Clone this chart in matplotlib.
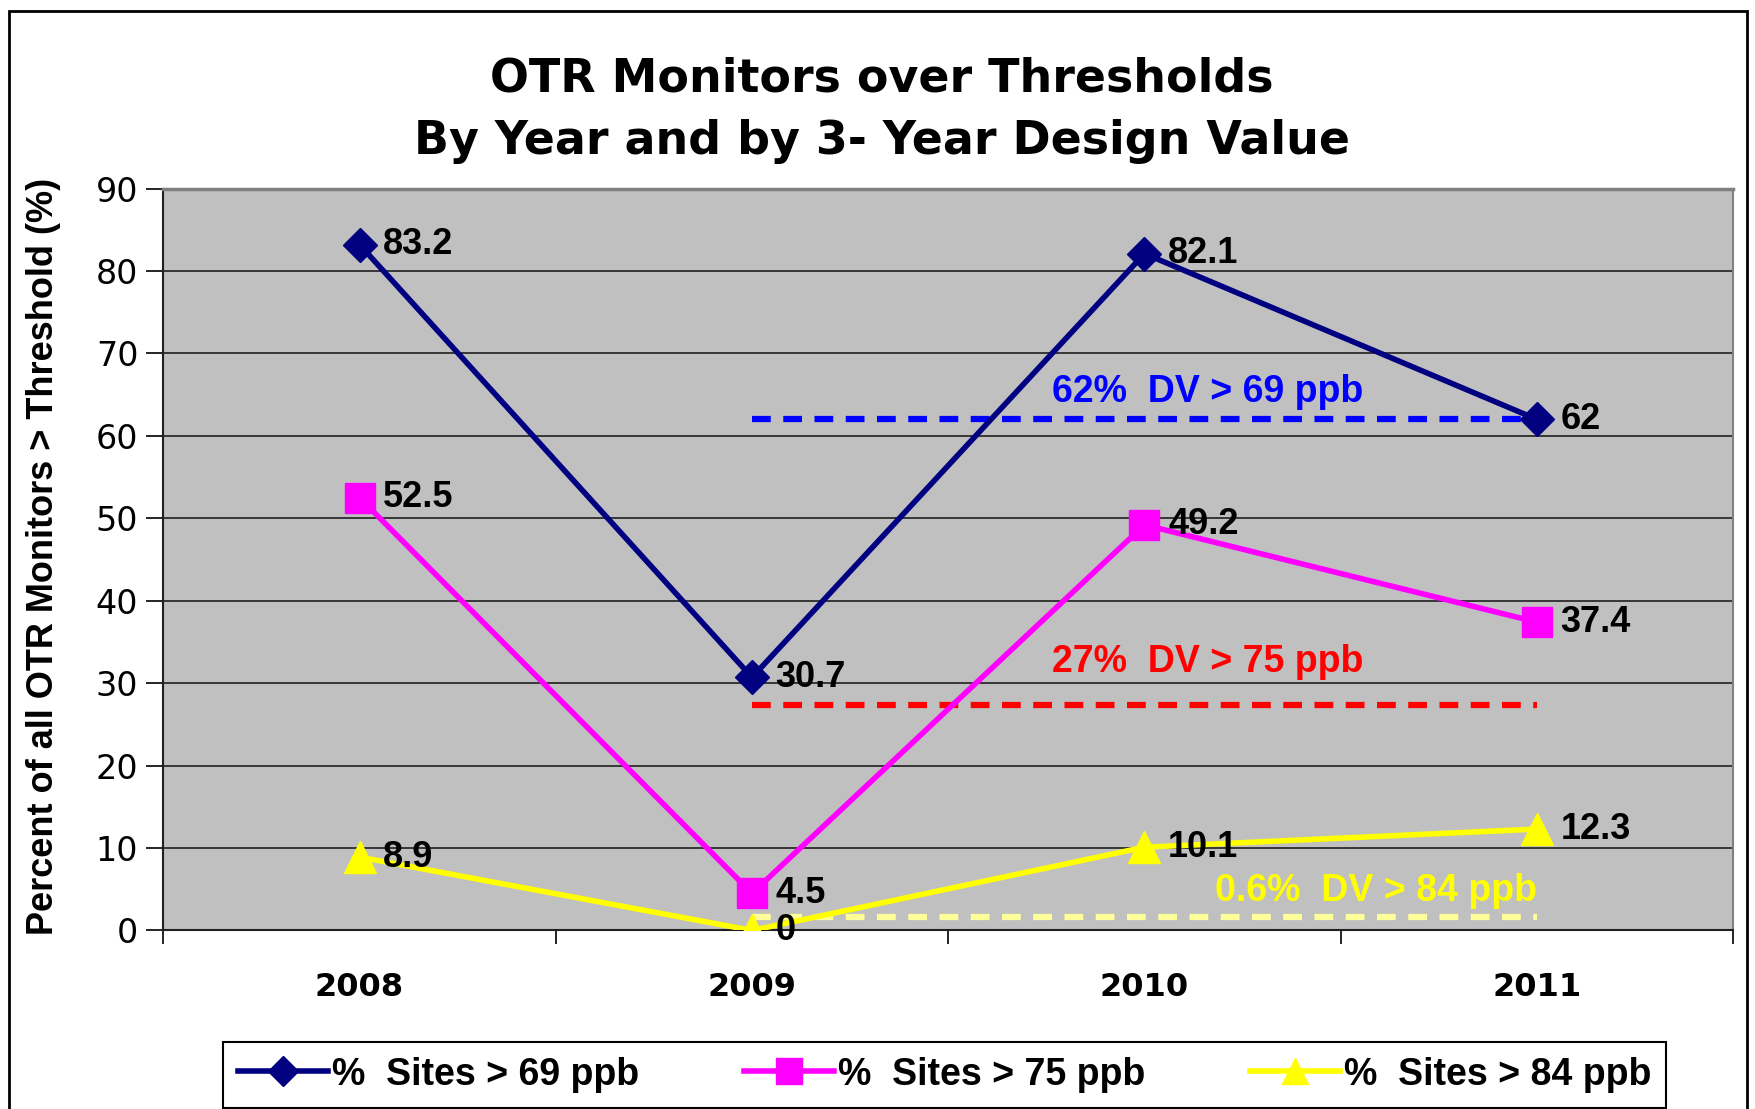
import matplotlib
matplotlib.use("Agg")
import matplotlib.pyplot as plt
from matplotlib.lines import Line2D
from matplotlib.patches import Rectangle

years = ["2008", "2009", "2010", "2011"]
sites69 = [83.2, 30.7, 82.1, 62]
sites75 = [52.5, 4.5, 49.2, 37.4]
sites84 = [8.9, 0, 10.1, 12.3]
labels69 = ["83.2", "30.7", "82.1", "62"]
labels75 = ["52.5", "4.5", "49.2", "37.4"]
labels84 = ["8.9", "0", "10.1", "12.3"]
series_names = ["%  Sites > 69 ppb", "%  Sites > 75 ppb", "%  Sites > 84 ppb"]
dv_levels = [62, 27.3, 1.6]
dv_texts = ["62%  DV > 69 ppb", "27%  DV > 75 ppb", "0.6%  DV > 84 ppb"]
yticks = [0, 10, 20, 30, 40, 50, 60, 70, 80, 90]

fig = plt.figure(figsize=(17.56, 11.09), dpi=100)
ax = fig.add_axes([0.093, 0.161, 0.894, 0.669])
ax.set_facecolor("#C0C0C0")
x = list(range(len(years)))

ax.set_xlim(-0.5, 3.5)
ax.set_ylim(0, 90)
ax.set_yticks(yticks)
ax.set_yticklabels([str(v) for v in yticks], fontsize=24, family="DejaVu Sans")
for y in yticks[1:]:
    ax.axhline(y, color="#202020", lw=1.2, zorder=1)

ax.set_xticks([-0.5, 0.5, 1.5, 2.5, 3.5])
ax.set_xticklabels([])
ax.set_xticks(x, minor=True)
ax.set_xticklabels(years, minor=True, fontsize=23, fontweight="bold", family="DejaVu Sans")
ax.tick_params(axis="x", which="minor", length=0, pad=30)
ax.tick_params(axis="x", which="major", length=10, width=1.2, direction="out")
ax.tick_params(axis="y", length=12, width=1.2, direction="out", pad=6)
for s in ["left", "bottom"]:
    ax.spines[s].set_color("#202020")
    ax.spines[s].set_linewidth(1.5)
ax.spines["top"].set_color("#808080")
ax.spines["top"].set_linewidth(2.5)
ax.spines["right"].set_color("#808080")
ax.spines["right"].set_linewidth(1.5)

# threshold dashed lines
dv_colors = ["#0000FF", "#FF0000", "#FFFF99"]
dv_text_colors = ["#0000FF", "#FF0000", "#FFFF00"]
dv_text_x = [2.16, 2.16, 2.59]
dv_text_y = [65.3, 32.6, 4.8]
for lvl, c in zip(dv_levels, dv_colors):
    ax.plot([1, 3], [lvl, lvl], ls=(0, (3, 2)), color=c, lw=4.5, zorder=2, dash_capstyle="butt")
for t, c, tx, ty in zip(dv_texts, dv_text_colors, dv_text_x, dv_text_y):
    ax.text(tx, ty, t, color=c, fontsize=27, fontweight="bold", ha="center", va="center",
            family="Liberation Sans", zorder=5)

ax.plot(x, sites69, color="#000080", lw=4, marker="D", ms=17, zorder=4)
ax.plot(x, sites75, color="#FF00FF", lw=4, marker="s", ms=21, zorder=4)
ax.plot(x, sites84, color="#FFFF00", lw=4, marker="^", ms=23, zorder=3)

for vals, labs in [(sites69, labels69), (sites75, labels75), (sites84, labels84)]:
    for xi, v, l in zip(x, vals, labs):
        ax.annotate(l, (xi, v), xytext=(17, 0), textcoords="offset points",
                    fontsize=26, fontweight="bold", va="center", ha="left",
                    family="Liberation Sans", zorder=6)

fig.text(0.502, 0.929, "OTR Monitors over Thresholds", ha="center", va="center",
         fontsize=33, fontweight="bold", family="DejaVu Sans")
fig.text(0.502, 0.872, "By Year and by 3- Year Design Value", ha="center", va="center",
         fontsize=33, fontweight="bold", family="DejaVu Sans")
fig.text(0.025, 0.498, "Percent of all OTR Monitors > Threshold (%)", rotation=90,
         ha="center", va="center", fontsize=26, fontweight="bold", family="Liberation Sans")

handles = [
    Line2D([], [], color="#000080", lw=4, marker="D", ms=15),
    Line2D([], [], color="#FF00FF", lw=4, marker="s", ms=19),
    Line2D([], [], color="#FFFF00", lw=4, marker="^", ms=19),
]
leg = fig.legend(handles, series_names, loc="center", bbox_to_anchor=(0.538, 0.031),
                 ncol=3, frameon=True, fancybox=False, edgecolor="black",
                 prop={"family": "Liberation Sans", "weight": "bold", "size": 27},
                 handlelength=2.4, handletextpad=0.1, columnspacing=2.8,
                 borderpad=0.4, borderaxespad=0, framealpha=1)
leg.get_frame().set_linewidth(1.5)

fig.patches.append(Rectangle((0.005, -0.01), 0.99, 1.0, transform=fig.transFigure,
                             fill=False, edgecolor="black", lw=2))

fig.savefig("out.png", dpi=100)
